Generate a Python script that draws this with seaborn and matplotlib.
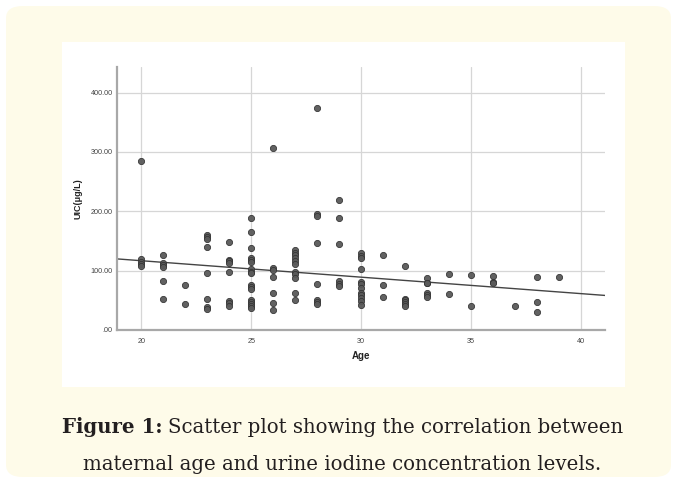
import matplotlib
matplotlib.use("Agg")
import numpy as np
import pandas as pd
import matplotlib.pyplot as plt
import seaborn as sns
from matplotlib.patches import FancyBboxPatch, Rectangle

# ── data (maternal age vs urine iodine concentration) ──
age = ([20] * 5 + [21] * 6 + [22] * 2 + [23] * 8 + [24] * 8 + [25] * 17 +
       [26] * 7 + [27] * 11 + [28] * 8 + [29] * 6 + [30] * 12 + [31] * 3 +
       [32] * 6 + [33] * 6 + [34] * 2 + [35] * 2 + [36] * 3 + [37] * 1 +
       [38] * 3 + [39] * 1)
uic = [285, 119, 115, 111, 107,
       127, 113, 110, 106, 83, 52,
       76, 43,
       160, 157, 153, 140, 96, 52, 39, 35,
       148, 118, 116, 113, 97, 49, 45, 40,
       188, 165, 139, 122, 118, 114, 103, 98, 96, 76, 72, 69, 51, 47, 44, 40, 37,
       306, 105, 101, 90, 62, 45, 33,
       135, 130, 126, 121, 116, 111, 97, 94, 88, 62, 51,
       374, 196, 192, 147, 77, 50, 47, 43,
       219, 188, 145, 83, 78, 74,
       129, 125, 121, 103, 81, 78, 70, 62, 59, 54, 49, 42,
       126, 75, 55,
       107, 52, 50, 47, 43, 40,
       88, 80, 79, 63, 59, 55,
       94, 61,
       92, 41,
       91, 81, 79,
       40,
       90, 48, 31,
       90]

x_ticks = [20, 25, 30, 35, 40]
y_ticks = [0, 100, 200, 300, 400]
y_tick_labels = [".00", "100.00", "200.00", "300.00", "400.00"]

df = pd.DataFrame({"Age": age, "UIC": uic})

sns.set_style("white")
plt.rcParams["font.family"] = ["Liberation Sans", "DejaVu Sans"]

W, H = 677, 483
fig = plt.figure(figsize=(W / 100, H / 100), dpi=100)
fig.patch.set_facecolor("white")

# cream card with rounded corners, white panel for the chart
card = FancyBboxPatch((6 / W, 6 / H), (W - 12) / W, (H - 12) / H,
                      boxstyle="round,pad=0,rounding_size=0.025",
                      transform=fig.transFigure, facecolor="#fefbe9",
                      edgecolor="none", zorder=-2)
fig.patches.append(card)
panel = Rectangle((62 / W, 1 - 387 / H), (625 - 62) / W, (387 - 42) / H,
                  transform=fig.transFigure, facecolor="white",
                  edgecolor="none", zorder=-1)
fig.patches.append(panel)

ax = fig.add_axes([117 / W, 1 - 330 / H, (605 - 117) / W, (330 - 66.5) / H])
ax.set_facecolor("white")
ax.set_xlim(18.89, 41.1)
ax.set_ylim(0, 444)

sns.regplot(data=df, x="Age", y="UIC", ax=ax, ci=None, truncate=False,
            scatter_kws=dict(s=20, color="#5a5a5a", edgecolor="#333333",
                             linewidths=0.6, alpha=0.95, zorder=3),
            line_kws=dict(color="#444444", linewidth=1.0, zorder=2))

ax.set_xticks(x_ticks)
ax.set_yticks(y_ticks)
ax.set_yticklabels(y_tick_labels)
ax.grid(True, color="#d6d6d6", linewidth=0.9, zorder=0)
ax.set_axisbelow(True)
ax.tick_params(length=0, labelsize=5.2, labelcolor="#444444")
ax.tick_params(axis="x", pad=6)
ax.tick_params(axis="y", pad=3)

for side in ["top", "right"]:
    ax.spines[side].set_visible(False)
for side in ["left", "bottom"]:
    ax.spines[side].set_color("#a8a8a8")
    ax.spines[side].set_linewidth(1.6)

ax.set_xlabel("Age", fontsize=7, fontweight="bold", color="#222222", labelpad=4)
ax.set_ylabel("UIC(μg/L)", fontsize=6.5, fontweight="bold", color="#222222",
              labelpad=6)

# caption
serif = ["DejaVu Serif"]
cap_size = 14.2
cap_y1 = 1 - 433 / H
t1 = fig.text(62 / W, cap_y1, "Figure 1:", fontsize=cap_size, fontweight="bold",
              family=serif, color="#231f20", va="baseline")
fig.canvas.draw()
bb = t1.get_window_extent()
fig.text((bb.x1 + 5) / W, cap_y1, "Scatter plot showing the correlation between",
         fontsize=cap_size, family=serif, color="#231f20", va="baseline")
fig.text(0.506, 1 - 470 / H, "maternal age and urine iodine concentration levels.",
         fontsize=cap_size, family=serif, color="#231f20", va="baseline", ha="center")

fig.savefig("out.png", dpi=100, facecolor=fig.get_facecolor())
